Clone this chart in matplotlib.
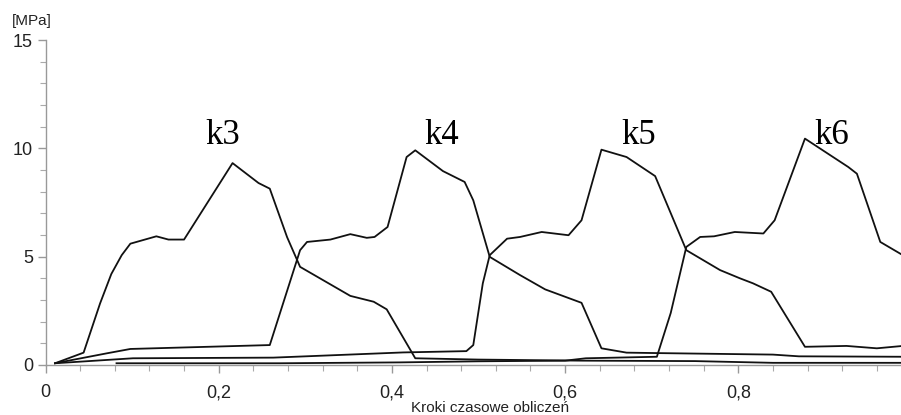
import numpy as np
import matplotlib.pyplot as plt
from matplotlib.ticker import MultipleLocator, FuncFormatter

# (x - krok czasowy, y - MPa)
k3_x = [0.011, 0.044, 0.063, 0.076, 0.088, 0.098, 0.128, 0.142, 0.160, 0.216, 0.246, 0.259,
        0.279, 0.294, 0.352, 0.379, 0.394, 0.427, 0.50, 0.62, 0.75, 0.84, 0.99]
k3_y = [0.08, 0.57, 2.84, 4.2, 5.07, 5.6, 5.94, 5.79, 5.79, 9.32, 8.40, 8.14,
        5.9, 4.53, 3.19, 2.92, 2.57, 0.31, 0.25, 0.2, 0.18, 0.1, 0.1]

k4_x = [0.011, 0.071, 0.098, 0.259, 0.294, 0.302, 0.329, 0.352, 0.371, 0.380, 0.395, 0.417,
        0.427, 0.459, 0.484, 0.494, 0.513, 0.548, 0.577, 0.619, 0.642, 0.671, 0.706, 0.84,
        0.87, 0.99]
k4_y = [0.08, 0.54, 0.74, 0.92, 5.3, 5.68, 5.79, 6.04, 5.87, 5.91, 6.37, 9.6,
        9.91, 8.95, 8.45, 7.6, 4.99, 4.15, 3.49, 2.87, 0.77, 0.57, 0.55, 0.48,
        0.4, 0.38]

k5_x = [0.011, 0.101, 0.263, 0.413, 0.486, 0.494, 0.505, 0.513, 0.533, 0.548, 0.573, 0.604,
        0.619, 0.642, 0.671, 0.704, 0.740, 0.779, 0.802, 0.817, 0.838, 0.877, 0.925, 0.960,
        0.99]
k5_y = [0.08, 0.31, 0.34, 0.58, 0.64, 0.92, 3.77, 5.07, 5.83, 5.91, 6.14, 5.99,
        6.68, 9.94, 9.6, 8.72, 5.3, 4.38, 4.0, 3.77, 3.38, 0.84, 0.88, 0.77,
        0.88]

k6_x = [0.082, 0.271, 0.409, 0.50, 0.60, 0.624, 0.706, 0.722, 0.740, 0.756, 0.772, 0.796,
        0.829, 0.842, 0.877, 0.927, 0.937, 0.964, 0.99]
k6_y = [0.08, 0.08, 0.12, 0.17, 0.2, 0.31, 0.38, 2.4, 5.45, 5.91, 5.94, 6.14,
        6.07, 6.68, 10.45, 9.14, 8.83, 5.68, 5.07]

labels = ["k3", "k4", "k5", "k6"]
label_x = [0.205, 0.458, 0.685, 0.908]
label_y = 10.6

fig = plt.figure(figsize=(9.01, 4.15), dpi=100)
ax = fig.add_axes([0.0505, 0.1205, 0.9515, 0.783])

for xs, ys in [(k3_x, k3_y), (k4_x, k4_y), (k5_x, k5_y), (k6_x, k6_y)]:
    ax.plot(xs, ys, color="#111111", lw=1.3)

for name, lx in zip(labels, label_x):
    ax.text(lx, label_y, name, ha="center", va="center",
            fontsize=25, family="Liberation Serif", color="black")

ax.set_xlim(0, 0.99)
ax.set_ylim(0, 15)

# osie jak w oryginale - tylko lewa i dolna, szare
ax.spines.top.set_visible(False)
ax.spines.right.set_visible(False)
for s in ("left", "bottom"):
    ax.spines[s].set_color("#999999")
    ax.spines[s].set_linewidth(1.0)

ax.xaxis.set_major_locator(MultipleLocator(0.2))
ax.xaxis.set_minor_locator(MultipleLocator(0.04))
ax.yaxis.set_major_locator(MultipleLocator(5))
ax.yaxis.set_minor_locator(MultipleLocator(1))
ax.xaxis.set_major_formatter(FuncFormatter(lambda v, p: "0" if v == 0 else f"{v:.1f}".replace(".", ",")))
ax.yaxis.set_major_formatter(FuncFormatter(lambda v, p: f"{v:.0f}"))

ax.tick_params(which="major", length=6, width=1, color="#999999",
               labelsize=13, labelcolor="#222222")
ax.tick_params(which="minor", length=4, width=0.8, color="#aaaaaa")
ax.tick_params(axis="x", which="major", pad=8)
ax.tick_params(axis="y", which="major", pad=3)
for t in ax.get_xticklabels() + ax.get_yticklabels():
    t.set_family("Liberation Sans")

fig.text(32 / 901, 1 - 21 / 415, "[MPa]", ha="center", va="center",
         fontsize=11, family="Liberation Sans", color="#222222")
fig.text(490 / 901, 1 - 408 / 415, "Kroki czasowe obliczeń", ha="center", va="center",
         fontsize=11, family="Liberation Sans", color="#222222")

fig.savefig("out.png", dpi=100)
